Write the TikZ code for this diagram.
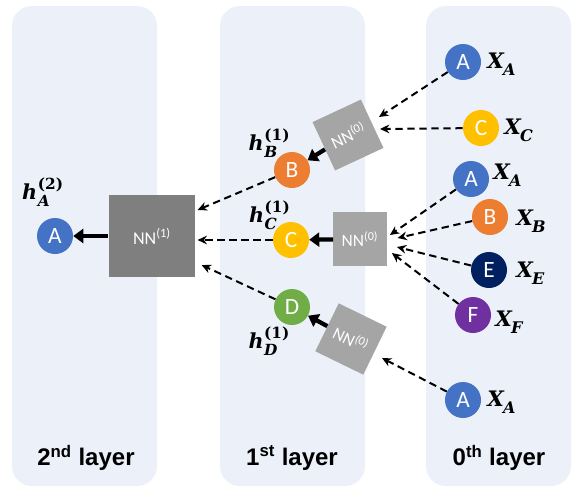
\documentclass[tikz,border=0pt]{standalone}
\usepackage{fontspec}
\setmainfont{Carlito}
\newfontfamily\labfont{Liberation Sans}
\newfontfamily\symfont{DejaVu Serif}
\usetikzlibrary{arrows.meta}
\definecolor{panelc}{RGB}{235,240,249}
\definecolor{cA}{HTML}{4472C4}
\definecolor{cB}{HTML}{ED7D31}
\definecolor{cC}{HTML}{FFC000}
\definecolor{cD}{HTML}{70AD47}
\definecolor{cE}{HTML}{002060}
\definecolor{cF}{HTML}{7030A0}
\definecolor{nnone}{HTML}{7F7F7F}
\definecolor{nnzero}{HTML}{A5A5A5}
\newcommand{\hsym}[2]{h\kern0.5pt\rlap{\raisebox{8pt}{\upshape\fontsize{11.5}{11.5}\selectfont(#2)}}\raisebox{-5pt}{\fontsize{11.5}{11.5}\selectfont #1}}
\newcommand{\xsym}[1]{X\kern-0.5pt\raisebox{-5pt}{\fontsize{12}{12}\selectfont #1}}
\begin{document}
\begin{tikzpicture}[x=0.75pt,y=-0.75pt,
  panel/.style={fill=panelc, rounded corners=15pt},
  circ/.style={circle, minimum size=27pt, inner sep=0pt, text=white, font=\fontsize{17.5}{19}\selectfont},
  nnbox/.style={minimum width=40pt, minimum height=40pt, inner sep=0pt, fill=nnzero, text=white, font=\fontsize{13}{15}\selectfont},
  nnbig/.style={minimum width=65pt, minimum height=61pt, inner sep=0pt, fill=nnone, text=white, font=\fontsize{13.5}{15}\selectfont},
  dasharrow/.style={dash pattern=on 5.5pt off 3.5pt, line width=1.5pt, -{Stealth[length=7pt,width=6.5pt]}},
  thickarrow/.style={line width=3.2pt, -{Triangle[length=7.5pt,width=10.5pt]}},
  xlab/.style={anchor=west, inner sep=0pt, font=\fontsize{16}{18}\selectfont\symfont\bfseries\itshape},
  hlab/.style={inner sep=0pt, font=\fontsize{15.5}{18}\selectfont\symfont\bfseries\itshape},
  layerlab/.style={font=\fontsize{18}{20}\selectfont\labfont\bfseries}
]
\useasboundingbox (0,0) rectangle (575,487);
% panels
\fill[panel] (12,6) rectangle (157,486);
\fill[panel] (220,6) rectangle (365,486);
\fill[panel] (426,6) rectangle (571,486);
\node[layerlab] (L2) at (86,458) {2\textsuperscript{nd} layer};
\node[layerlab] (L1) at (292,458) {1\textsuperscript{st} layer};
\node[layerlab] (L0) at (499,458) {0\textsuperscript{th} layer};
% 2nd layer
\node[circ, fill=cA] (A2) at (55,236) {A};
\node[hlab] (hA) at (36,192) {\hsym{A}{2}};
\node[nnbig] (nn1) at (152,236) {NN\textsuperscript{(1)}};
% 1st layer
\node[circ, fill=cB] (B1) at (292,170) {B};
\node[circ, fill=cC] (C1) at (291,240) {C};
\node[circ, fill=cD] (D1) at (292,307) {D};
\node[hlab] (hB) at (263,143) {\hsym{B}{1}};
\node[hlab] (hC) at (263,215) {\hsym{C}{1}};
\node[hlab] (hD) at (263,341) {\hsym{D}{1}};
\node[nnbox, rotate=25] (nn0a) at (348,135) {NN\textsuperscript{(0)}};
\node[nnbox] (nn0b) at (360,239) {NN\textsuperscript{(0)}};
\node[nnbox, rotate=-26] (nn0c) at (351,339) {NN\textsuperscript{(0)}};
% 0th layer
\node[circ, fill=cA] (A0a) at (463,62) {A};
\node[circ, fill=cC] (C0) at (481,128) {C};
\node[circ, fill=cA] (A0b) at (471,179) {A};
\node[circ, fill=cB] (B0) at (490,217) {B};
\node[circ, fill=cE] (E0) at (489,270) {E};
\node[circ, fill=cF] (F0) at (473,315) {F};
\node[circ, fill=cA] (A0c) at (463,400) {A};
\node[xlab] (xA1) at (487,64) {\xsym{A}};
\node[xlab] (xC) at (504,130) {\xsym{C}};
\node[xlab] (xA2) at (493,175) {\xsym{A}};
\node[xlab] (xB) at (516,221) {\xsym{B}};
\node[xlab] (xE) at (516,273) {\xsym{E}};
\node[xlab] (xF) at (495,322) {\xsym{F}};
\node[xlab] (xA3) at (487,402) {\xsym{A}};
% connectors 0th -> 1st
\draw[dasharrow] (A0a) -- ([shift={(23.25pt,13.5pt)}]nn0a.center);
\draw[dasharrow] (C0) -- ([shift={(24pt,4.5pt)}]nn0a.center);
\draw[dasharrow] (A0b) -- ([shift={(2.25pt,3pt)}]nn0b.east);
\draw[dasharrow] (B0) -- ([shift={(8pt,0.75pt)}]nn0b.east);
\draw[dasharrow] (E0) -- ([shift={(7.5pt,-6pt)}]nn0b.east);
\draw[dasharrow] (F0) -- ([shift={(3.75pt,-10.5pt)}]nn0b.east);
\draw[dasharrow] (A0c) -- ([shift={(23.25pt,-14.25pt)}]nn0c.center);
\draw[thickarrow] (nn0a) -- (B1);
\draw[thickarrow] (nn0b) -- (C1);
\draw[thickarrow] (nn0c) -- (D1);
% connectors 1st -> 2nd
\draw[dasharrow] (B1) -- ([shift={(1.5pt,19.5pt)}]nn1.east);
\draw[dasharrow] (C1) -- ([shift={(1.5pt,-3pt)}]nn1.east);
\draw[dasharrow] (D1) -- ([shift={(4.5pt,-21.75pt)}]nn1.east);
\draw[thickarrow] (nn1) -- (A2);
\end{tikzpicture}
\end{document}
